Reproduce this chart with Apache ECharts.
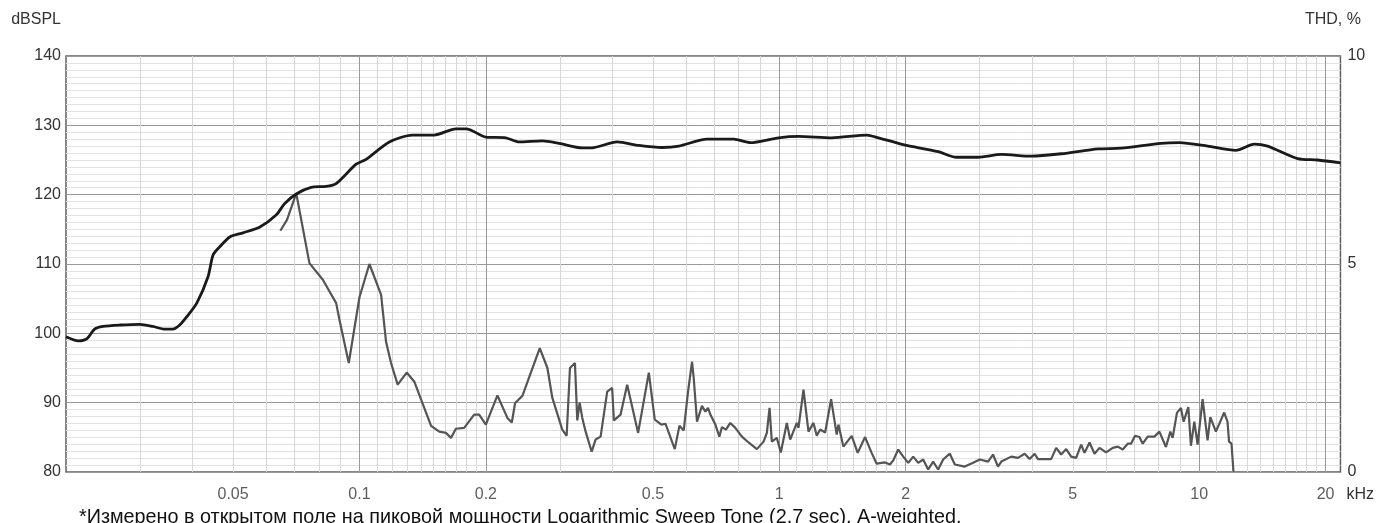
<!DOCTYPE html>
<html><head><meta charset="utf-8">
<script src="https://cdn.jsdelivr.net/npm/echarts@6/dist/echarts.min.js"></script>
<style>html,body{margin:0;padding:0;background:#fff}#c{width:1377px;height:523px}</style>
</head><body><div id="c"></div>
<script>
// ---- data (frequency in kHz) ----
const splFreq = [0.02,0.0214,0.0224,0.0234,0.0245,0.0269,0.030,0.0322,0.0344,0.0359,0.0373,0.0388,0.041,0.0436,0.0448,0.0465,0.0491,0.0528,0.0578,0.0634,0.0663,0.0707,0.0767,0.0833,0.088,0.0982,0.1037,0.1178,0.1336,0.1507,0.1697,0.1796,0.2,0.2231,0.24,0.2726,0.2988,0.3393,0.3618,0.411,0.4628,0.5258,0.5762,0.6726,0.7784,0.8532,0.996,1.111,1.333,1.615,1.722,1.921,2.01,2.39,2.642,2.976,3.381,3.984,4.696,5.74,6.522,8.116,8.974,10.48,12.23,13.53,14.55,17.16,19.13,21.7];
const splDb = [99.5,98.9,99.2,100.6,101.0,101.2,101.3,101.0,100.6,100.6,101.2,102.4,104.4,108.2,111.3,112.5,113.9,114.5,115.3,117.1,118.7,120.1,121.05,121.2,121.6,124.4,125.1,127.6,128.6,128.6,129.5,129.5,128.3,128.2,127.6,127.75,127.4,126.75,126.8,127.6,127.1,126.8,127.0,128.0,128.0,127.5,128.2,128.4,128.2,128.6,128.2,127.4,127.1,126.2,125.4,125.4,125.8,125.55,125.9,126.6,126.7,127.4,127.5,127.0,126.4,127.3,127.0,125.2,125.0,124.6];

const thdFreq = [0.0648,0.0672,0.0707,0.0760,0.0818,0.0880,0.0896,0.0943,0.1000,0.1056,0.1126,0.1157,0.1189,0.1233,0.1296,0.1351,0.1481,0.1549,0.1607,0.1652,0.1697,0.1776,0.1876,0.1928,0.2000,0.2131,0.2251,0.2306,0.2348,0.2444,0.2688,0.2803,0.2880,0.3041,0.3115,0.3172,0.3260,0.3302,0.3345,0.3394,0.3457,0.3573,0.3651,0.3753,0.3891,0.3998,0.4036,0.4187,0.4341,0.4610,0.4889,0.5050,0.5239,0.5355,0.5636,0.5782,0.5920,0.6062,0.6196,0.6253,0.6311,0.6367,0.6543,0.6666,0.6762,0.6851,0.7041,0.7197,0.7301,0.7462,0.7643,0.7856,0.8145,0.8448,0.8841,0.9172,0.9339,0.9478,0.9598,0.9864,1.0083,1.0419,1.0615,1.1005,1.1108,1.1417,1.1734,1.2060,1.2279,1.2510,1.2857,1.3285,1.3698,1.3827,1.4212,1.4872,1.5369,1.6003,1.6592,1.7053,1.7854,1.8348,1.8680,1.9200,1.973,2.028,2.084,2.142,2.201,2.262,2.325,2.389,2.456,2.547,2.618,2.765,2.894,3.002,3.142,3.228,3.318,3.379,3.568,3.702,3.840,3.947,4.057,4.130,4.441,4.564,4.692,4.822,4.956,5.093,5.235,5.333,5.481,5.633,5.789,6.002,6.225,6.398,6.576,6.758,6.882,7.035,7.206,7.337,7.541,7.822,8.039,8.334,8.537,8.646,8.851,9.047,9.182,9.421,9.557,9.737,9.913,10.19,10.47,10.63,10.96,11.47,11.68,11.78,11.94,12.07];
const thdPct = [5.80,6.06,6.70,5.02,4.62,4.06,3.66,2.62,4.20,5.00,4.26,3.13,2.62,2.10,2.39,2.17,1.11,0.97,0.94,0.82,1.04,1.06,1.38,1.38,1.14,1.84,1.30,1.19,1.66,1.83,2.98,2.50,1.78,1.02,0.87,2.50,2.62,1.24,1.67,1.30,0.97,0.49,0.78,0.85,1.93,2.02,1.24,1.38,2.10,0.94,2.39,1.26,1.14,1.16,0.55,1.11,1.00,1.93,2.65,2.26,2.22,1.21,1.59,1.45,1.54,1.38,1.14,0.85,1.08,1.02,1.18,1.06,0.85,0.71,0.55,0.73,0.94,1.54,0.73,0.82,0.47,1.18,0.78,1.18,1.06,1.98,0.97,1.18,0.87,1.02,0.95,1.75,0.90,1.14,0.61,0.87,0.46,0.84,0.46,0.20,0.23,0.18,0.28,0.54,0.37,0.22,0.37,0.22,0.30,0.06,0.25,0.06,0.30,0.44,0.18,0.13,0.22,0.30,0.25,0.42,0.13,0.25,0.37,0.34,0.44,0.31,0.44,0.31,0.31,0.58,0.42,0.55,0.37,0.34,0.66,0.46,0.71,0.44,0.58,0.47,0.58,0.61,0.54,0.68,0.68,0.87,0.84,0.68,0.85,0.85,0.97,0.60,0.97,0.82,1.42,1.54,1.21,1.56,0.63,1.21,0.66,1.75,0.76,1.32,0.97,1.43,1.21,0.73,0.68,0.00];

// ---- axis ticks / grid ----
const xTickLabels = [0.05,0.1,0.2,0.5,1,2,5,10,20];
const xMajorGrid = [0.1,0.2,1,2,10,20];
const xMinorGrid = [0.03,0.04,0.05,0.06,0.07,0.08,0.09,
  0.11,0.12,0.13,0.14,0.15,0.16,0.17,0.18,0.19,
  0.3,0.4,0.5,0.6,0.7,0.8,0.9,
  1.1,1.2,1.3,1.4,1.5,1.6,1.7,1.8,1.9,
  3,4,5,6,7,8,9,
  11,12,13,14,15,16,17,18,19];
const footnote = '*Измерено в открытом поле на пиковой мощности Logarithmic Sweep Tone (2,7 sec), A-weighted.';

const FONT = '"Liberation Sans", Arial, sans-serif';
const TXT = '#333';

function gridSeries(vals, color, z) {
  return {
    type: 'line', data: [[0.02, 80]], xAxisIndex: 0, yAxisIndex: 0,
    silent: true, showSymbol: false, lineStyle: {opacity: 0}, z: z,
    markLine: {
      silent: true, animation: false, z: z, symbol: ['none', 'none'],
      label: {show: false}, emphasis: {disabled: true},
      lineStyle: {color: color, width: 1, type: 'solid'},
      data: vals.map(v => ({xAxis: v}))
    }
  };
}

const chart = echarts.init(document.getElementById('c'));
chart.setOption({
  animation: false,
  backgroundColor: '#fff',
  textStyle: {fontFamily: FONT},
  title: {
    text: footnote, left: 74, top: 503,
    textStyle: {fontSize: 19.8, fontWeight: 'normal', color: '#111', fontFamily: FONT}
  },
  grid: {left: 66, right: 34, top: 56, bottom: 51, show: true,
         borderColor: '#606060', borderWidth: 1.5, backgroundColor: 'transparent'},
  xAxis: {
    type: 'log', logBase: 10, min: 0.02, max: 21.7,
    axisLine: {show: false}, axisTick: {show: false}, axisLabel: {show: false},
    splitLine: {show: false}, minorSplitLine: {show: false},
    name: 'kHz', nameLocation: 'end', nameGap: 6,
    nameTextStyle: {fontSize: 16, color: TXT, align: 'left', verticalAlign: 'top', padding: [15, 0, 0, 0], fontFamily: FONT}
  },
  yAxis: [{
    type: 'value', min: 80, max: 140, interval: 10, position: 'left',
    axisLine: {show: false}, axisTick: {show: false},
    axisLabel: {fontSize: 16, color: TXT, margin: 5, fontFamily: FONT},
    splitLine: {show: true, lineStyle: {color: '#999', width: 1}},
    minorTick: {show: false, splitNumber: 10},
    minorSplitLine: {show: true, lineStyle: {color: '#e2e2e2', width: 1}},
    name: 'dBSPL', nameLocation: 'end', nameGap: 36,
    nameTextStyle: {fontSize: 16, color: TXT, align: 'right', verticalAlign: 'middle', padding: [0, 5, 0, 0], fontFamily: FONT}
  }, {
    type: 'value', min: 0, max: 10, interval: 5, position: 'right',
    axisLine: {show: false}, axisTick: {show: false},
    axisLabel: {fontSize: 16, color: TXT, margin: 7, fontFamily: FONT},
    splitLine: {show: false},
    name: 'THD, %', nameLocation: 'end', nameGap: 36,
    nameTextStyle: {fontSize: 16, color: TXT, align: 'center', verticalAlign: 'middle', padding: [0, 15, 0, 0], fontFamily: FONT}
  }],
  series: [
    gridSeries(xMinorGrid, '#d6d6d6', 1),
    gridSeries(xMajorGrid, '#999', 2),
    {
      type: 'scatter', data: xTickLabels.map(v => [v, 80]), xAxisIndex: 0, yAxisIndex: 0,
      symbolSize: 1, itemStyle: {color: 'transparent'}, silent: true, clip: false, z: 3,
      label: {show: true, position: 'bottom', distance: 14, fontSize: 16, color: TXT, fontFamily: FONT,
              formatter: p => String(p.value[0])}
    },
    {
      name: 'THD', type: 'line', yAxisIndex: 1, z: 4,
      data: thdFreq.map((f, i) => [f, thdPct[i]]),
      showSymbol: false, lineStyle: {color: '#555', width: 2.2}
    },
    {
      name: 'SPL', type: 'line', yAxisIndex: 0, z: 5,
      data: splFreq.map((f, i) => [f, splDb[i]]),
      showSymbol: false, smooth: 0.25, lineStyle: {color: '#1a1a1a', width: 2.8}
    }
  ]
});
</script></body></html>
